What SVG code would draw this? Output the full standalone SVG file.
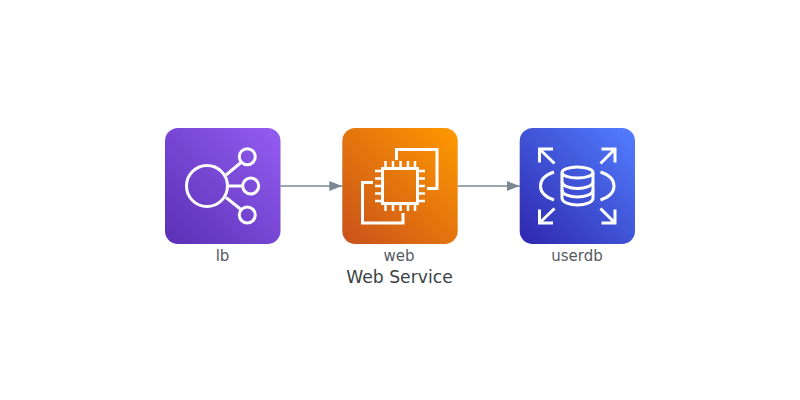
<svg xmlns="http://www.w3.org/2000/svg" width="800" height="400" viewBox="0 0 800 400">
<style>
text{font-family:"DejaVu Sans",sans-serif;text-anchor:middle}
.l{font-size:15px;fill:#555a60}
.t{font-size:17.2px;fill:#3a3f45}
.i{fill:none;stroke:#fff;stroke-width:3}
.c{fill:none;stroke:#7b8894;stroke-width:1.300}
.p{fill:none;stroke:#fff;stroke-width:2.500}
</style>
<defs>
<linearGradient id="gp" x1="0" y1="1" x2="1" y2="0"><stop offset="0" stop-color="#5a30b5"/><stop offset="1" stop-color="#945df2"/></linearGradient>
<linearGradient id="go" x1="0" y1="1" x2="1" y2="0"><stop offset="0" stop-color="#c8511b"/><stop offset="1" stop-color="#ff9900"/></linearGradient>
<linearGradient id="gb" x1="0" y1="1" x2="1" y2="0"><stop offset="0" stop-color="#2e27ad"/><stop offset="1" stop-color="#527fff"/></linearGradient>
<marker id="a" markerUnits="userSpaceOnUse" markerWidth="13" markerHeight="10" refX="13" refY="5" orient="auto"><path d="M0 0L13 5L0 10Z" fill="#7b8894"/></marker>
</defs>
<g id="connectors">
<path class="c" d="M280.500 186H342.300" marker-end="url(#a)"/>
<path class="c" d="M457.700 186H519.700" marker-end="url(#a)"/>
</g>
<g id="lb">
<rect x="165" y="128" width="115.500" height="116" rx="13" fill="url(#gp)"/>
<circle class="i" cx="207" cy="186" r="20.500"/>
<circle class="i" cx="247.300" cy="156.700" r="8"/>
<circle class="i" cx="250.700" cy="186" r="8"/>
<circle class="i" cx="247.300" cy="215" r="8"/>
<path class="i" d="M226 175L241 162.500M227.500 186H242.500M226 197.500L241 209.500"/>
<text class="l" x="222.500" y="260.500">lb</text>
</g>
<g id="web">
<rect x="342.300" y="128" width="115.400" height="116" rx="13" fill="url(#go)"/>
<rect class="i" x="382.500" y="168.500" width="35" height="35"/>
<path class="i" d="M396.500 160V149.500H437V188.500H427M373 182.500H362.500V223H403V213"/>
<path class="p" d="M385.500 161V168M393 161V168M400.500 161V168M408 161V168M415 161V168M385.500 204V211M393 204V211M400.500 204V211M408 204V211M415 204V211M375 171H382M375 178.500H382M375 186H382M375 193.500H382M375 201H382M418 171H425M418 178.500H425M418 186H425M418 193.500H425M418 201H425"/>
<text class="l" x="399" y="260.500">web</text>
</g>
<g id="userdb">
<rect x="519.700" y="128" width="115.300" height="116" rx="13" fill="url(#gb)"/>
<path class="i" d="M539.500 162.500V149H553M540 149.500L554.500 163.500M601.500 149H615V162.500M614.500 149.500L600.500 163.500M539.500 209.500V223H553M540 222.500L554.500 208.500M601.500 223H615V209.500M614.500 222.500L600.500 208.500"/>
<path class="i" d="M554 172C545 175 540.500 180.500 540.500 186S545 197 554 200M600.500 172C609.500 175 614 180.500 614 186S609.500 197 600.500 200"/>
<path class="i" d="M562 173V198C562 202.500 570 205 577.500 205S593 202.500 593 198V173"/>
<ellipse class="i" cx="577.500" cy="172.500" rx="15.500" ry="5.500"/>
<path class="i" d="M562 181.500C562 186 570 188.500 577.500 188.500S593 186 593 181.500M562 190C562 194.500 570 197 577.500 197S593 194.500 593 190"/>
<text class="l" x="577" y="260.500">userdb</text>
</g>
<text class="t" x="399.500" y="282.500">Web Service</text>
</svg>
